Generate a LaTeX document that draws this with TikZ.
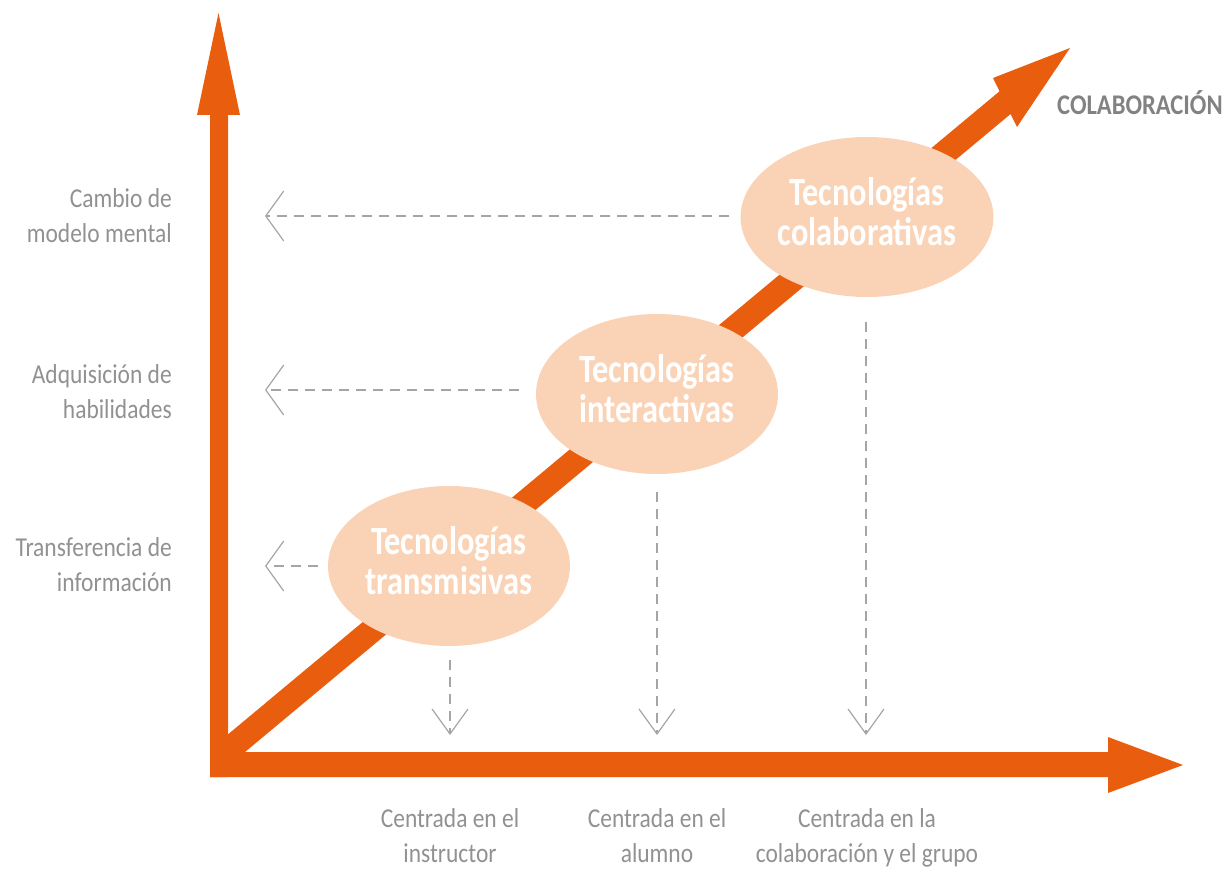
\documentclass[tikz,border=0pt]{standalone}
\usepackage{fontspec}
\usetikzlibrary{arrows.meta,shapes.geometric}
\newfontfamily\labfont{Carlito}[FakeStretch=0.86]
\newfontfamily\elfont{Carlito}[FakeStretch=0.81]
\definecolor{axisorange}{RGB}{233,93,15}
\definecolor{peach}{RGB}{250,211,183}
\definecolor{labgray}{RGB}{145,145,145}
\definecolor{dashgray}{RGB}{165,165,165}
\definecolor{titlegray}{RGB}{130,130,130}
\tikzset{
  techbox/.style={ellipse, fill=peach, draw=none, minimum width=242pt, minimum height=160pt,
    inner sep=0pt, text=white, font=\elfont\bfseries\fontsize{40}{37}\selectfont},
  leftlab/.style={anchor=east, inner sep=0pt, text=labgray, font=\labfont\fontsize{27.3}{35}\selectfont},
  botlab/.style={anchor=center, inner sep=0pt, text=labgray, font=\labfont\fontsize{27.3}{35}\selectfont},
  guide/.style={draw=dashgray, line width=1.2pt, dash pattern=on 10pt off 7pt},
  sidetip/.style={-{Straight Barb[length=18pt,width=50pt]}},
  downtip/.style={-{Straight Barb[length=25pt,width=36pt]}},
  axisfill/.style={fill=axisorange, draw=none}
}
\begin{document}
\begin{tikzpicture}[x=1pt,y=-1pt]
\useasboundingbox (0,0) rectangle (1229,869);
% diagonal arrow
\fill[axisfill] (214,746) -- (999.5,91.3) -- (993,78) -- (1070,48) -- (1017,127) -- (1010.6,114) -- (225.8,768) -- cycle;
% vertical axis
\fill[axisfill] (210,777) -- (210,115) -- (197,115) -- (218.5,13) -- (240,115) -- (228,115) -- (228,777) -- cycle;
% horizontal axis
\fill[axisfill] (210,752) -- (1108,752) -- (1108,737) -- (1183,765) -- (1108,793) -- (1108,777) -- (210,777) -- cycle;

% ellipses
\node[techbox] (e1) at (449,566) {\begin{tabular}{@{}c@{}}Tecnologías\\transmisivas\end{tabular}};
\node[techbox] (e2) at (657,394) {\begin{tabular}{@{}c@{}}Tecnologías\\interactivas\end{tabular}};
\node[techbox] (e3) at (867,217) {\begin{tabular}{@{}c@{}}Tecnologías\\colaborativas\end{tabular}};

% arrow tip coordinates
\coordinate (l3) at (265,216);
\coordinate (l2) at (265,390);
\coordinate (l1) at (265,566);
\coordinate (d1) at (450,735);
\coordinate (d2) at (657,735);
\coordinate (d3) at (866,735);

% dashed guides
\draw[guide, sidetip, shorten <=11pt] (e3.west |- l3) -- (l3);
\draw[guide, sidetip, shorten <=17pt] (e2.west |- l2) -- (l2);
\draw[guide, sidetip, shorten <=10pt] (e1.west |- l1) -- (l1);
\draw[guide, downtip, shorten <=14pt] (e1.south -| d1) -- (d1);
\draw[guide, downtip, shorten <=18pt] (e2.south -| d2) -- (d2);
\draw[guide, downtip, shorten <=25pt] (e3.south -| d3) -- (d3);

% left labels
\node[leftlab] (y3) at (172,218.5) {\begin{tabular}{@{}r@{}}Cambio de\\modelo mental\end{tabular}};
\node[leftlab] (y2) at (172,393.5) {\begin{tabular}{@{}r@{}}Adquisición de\\habilidades\end{tabular}};
\node[leftlab] (y1) at (172,567) {\begin{tabular}{@{}r@{}}Transferencia de\\información\end{tabular}};

% bottom labels
\node[botlab] (x1) at (450,837.5) {\begin{tabular}{@{}c@{}}Centrada en el\\instructor\end{tabular}};
\node[botlab] (x2) at (657,837.5) {\begin{tabular}{@{}c@{}}Centrada en el\\alumno\end{tabular}};
\node[botlab] (x3) at (867,837.5) {\begin{tabular}{@{}c@{}}Centrada en la\\colaboración y el grupo\end{tabular}};

% diagonal label
\node[anchor=base west, inner sep=0pt, text=titlegray, font=\labfont\bfseries\fontsize{28.5}{30}\selectfont] (colab) at (1057,115) {COLABORACIÓN};
\end{tikzpicture}
\end{document}
